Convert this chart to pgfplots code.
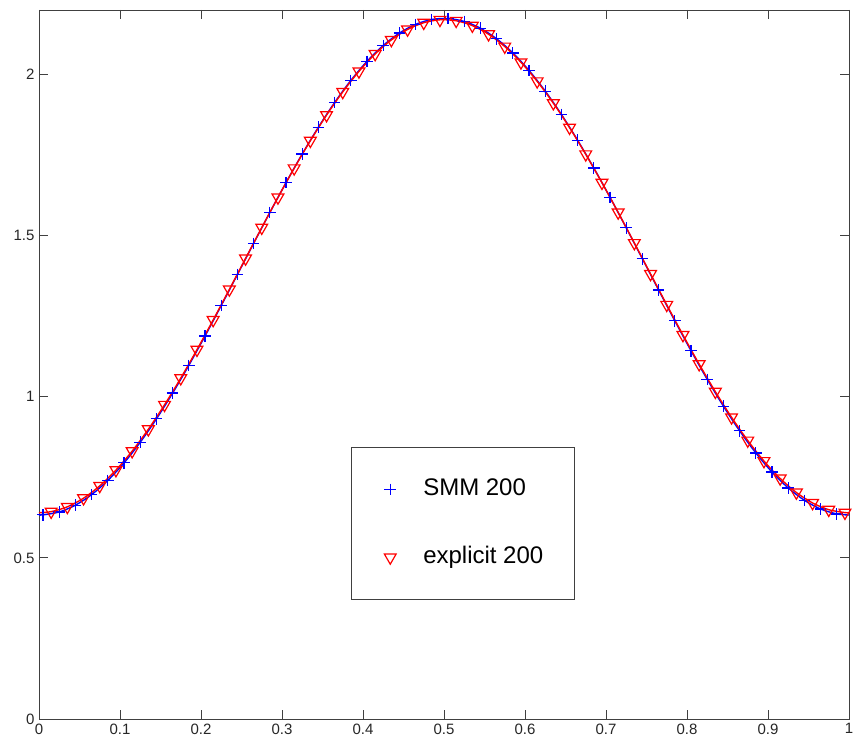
\documentclass[border=0pt]{standalone}
\usepackage{pgfplots}
\pgfplotsset{compat=1.18}
\usepackage{pgfplotstable}
\usepackage{fontspec}
\setmainfont{Liberation Sans}
\pgfplotstableread{
x y
0 0.6330
0.005 0.6334
0.025 0.6425
0.045 0.6636
0.065 0.6964
0.085 0.7403
0.105 0.7947
0.125 0.8587
0.145 0.9313
0.165 1.0113
0.185 1.0975
0.205 1.1885
0.225 1.2830
0.245 1.3793
0.265 1.4760
0.285 1.5716
0.305 1.6645
0.325 1.7533
0.345 1.8366
0.365 1.9130
0.385 1.9815
0.405 2.0408
0.425 2.0900
0.445 2.1285
0.465 2.1555
0.485 2.1706
0.505 2.1736
0.525 2.1645
0.545 2.1434
0.565 2.1106
0.585 2.0667
0.605 2.0123
0.625 1.9483
0.645 1.8757
0.665 1.7957
0.685 1.7095
0.705 1.6185
0.725 1.5240
0.745 1.4277
0.765 1.3310
0.785 1.2354
0.805 1.1425
0.825 1.0537
0.845 0.9704
0.865 0.8940
0.885 0.8255
0.905 0.7662
0.925 0.7170
0.945 0.6785
0.965 0.6515
0.985 0.6364
1 0.6330
}\smm
\pgfplotstableread{
x y
0 0.6400
0.015 0.6434
0.035 0.6584
0.055 0.6852
0.075 0.7234
0.095 0.7723
0.115 0.8312
0.135 0.8991
0.155 0.9750
0.175 1.0577
0.195 1.1459
0.215 1.2381
0.235 1.3330
0.255 1.4290
0.275 1.5247
0.295 1.6184
0.315 1.7088
0.335 1.7944
0.355 1.8739
0.375 1.9459
0.395 2.0095
0.415 2.0635
0.435 2.1071
0.455 2.1396
0.475 2.1606
0.495 2.1696
0.515 2.1666
0.535 2.1516
0.555 2.1248
0.575 2.0866
0.595 2.0377
0.615 1.9788
0.635 1.9109
0.655 1.8350
0.675 1.7523
0.695 1.6641
0.715 1.5719
0.735 1.4770
0.755 1.3810
0.775 1.2853
0.795 1.1916
0.815 1.1012
0.835 1.0156
0.855 0.9361
0.875 0.8641
0.895 0.8005
0.915 0.7465
0.935 0.7029
0.955 0.6704
0.975 0.6494
0.995 0.6404
1 0.6400
}\expl
\begin{document}
\begin{tikzpicture}
\begin{axis}[
  scale only axis,
  width=810pt, height=709pt,
  xmin=0, xmax=1, ymin=0, ymax=2.2,
  xtick={0,0.1,0.2,0.3,0.4,0.5,0.6,0.7,0.8,0.9,1},
  xticklabels={0,0.1,0.2,0.3,0.4,0.5,0.6,0.7,0.8,0.9,1},
  ytick={0,0.5,1,1.5,2},
  yticklabels={0,0.5,1,1.5,2},
  tick align=inside,
  major tick length=9pt,
  axis line style={black!75, line width=0.9pt},
  every tick/.style={black!75, line width=0.9pt},
  tick label style={font=\fontsize{15}{15}\selectfont, text=black!85},
  xticklabel style={yshift=-1pt},
  yticklabel style={xshift=-1pt},
  /pgf/number format/assume math mode=true,
  legend style={at={(0.385,0.3836)}, anchor=north west, draw=black!75, line width=0.8pt,
    font=\fontsize{24}{24}\selectfont, inner xsep=31pt, inner ysep=31pt,
    row sep=46pt, cells={anchor=west},
    nodes={inner sep=0pt, text height=17pt, text depth=5pt}},
  legend image code/.code={\draw[#1] plot coordinates {(0pt,0pt)}; \path[draw=none,fill=none] (-8pt,0pt) -- (33pt,0pt);},
  legend cell align=left,
]
\addplot[blue, line width=1.4pt, smooth, forget plot] table[x=x,y=y] {\smm};
\addplot[blue, only marks, mark=+, mark size=5.8pt, line width=1.2pt,
  mark options={draw=blue, solid},
  skip coords between index={0}{1}, skip coords between index={51}{52}] table[x=x,y=y] {\smm};
\addlegendentry{SMM 200}
\addplot[red, line width=1.4pt, smooth, forget plot] table[x=x,y=y] {\expl};
\addplot[red, only marks, mark=triangle, mark size=6.8pt, line width=1.2pt,
  mark options={draw=red, solid, rotate=180},
  skip coords between index={0}{1}, skip coords between index={51}{52}] table[x=x,y=y] {\expl};
\addlegendentry{explicit 200}
\end{axis}
\pgfresetboundingbox
\path (-39pt,-23pt) rectangle (814pt,719pt);
\end{tikzpicture}
\end{document}
